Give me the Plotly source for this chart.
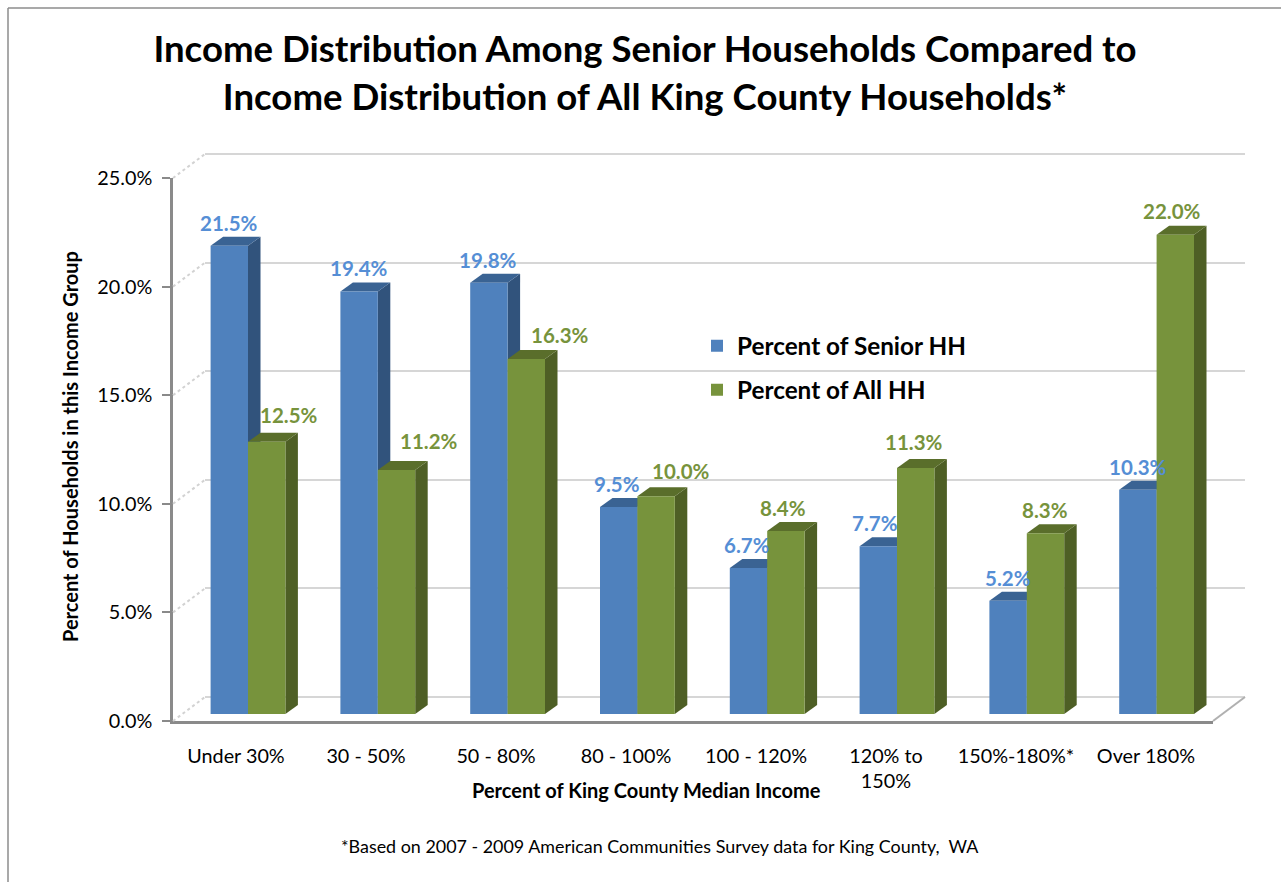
import plotly.graph_objects as go

categories = ["Under 30%", "30 - 50%", "50 - 80%", "80 - 100%", "100 - 120%", "120% to<br>150%", "150%-180%*", "Over 180%"]
senior = [21.5, 19.4, 19.8, 9.5, 6.7, 7.7, 5.2, 10.3]
all_hh = [12.5, 11.2, 16.3, 10.0, 8.4, 11.3, 8.3, 22.0]
y_ticks = [0, 5, 10, 15, 20, 25]
senior_label_dx = [0, 0, -1, -2, -2, -3, 0, 0]
all_label_dx = [22, 32, 34, 25, -3, -2, -1, -3]
all_label_dy = [27, 29, 24, 25, 23, 26, 23, 24]

W, H = 1281, 882
L, R, T, B = 173, 1245, 130, 721
PW, PH = R - L, B - T
FONT = "Lato"
BLUE, BLUE_SIDE, BLUE_TOP = "#4f81bd", "#31537c", "#3a6393"
GREEN, GREEN_SIDE, GREEN_TOP = "#77933c", "#4e5f25", "#5a6e2b"
BLUE_TXT = "#558ed5"
AXIS = "#8a8a8a"

def fx(p): return (p - L) / PW
def fy(p): return (B - p) / PH

BAR_PITCH, BAR_X0 = 129.8, 248
BAR_UNIT, BAR_BASE = 21.78, 714
BAR_W = 37.4 / BAR_PITCH
DX, DY = 12.5 / BAR_PITCH, 9 / BAR_UNIT
idx = list(range(len(categories)))

fig = go.Figure()
for name, vals, col, leg, sign in [("Percent of Senior HH", senior, BLUE, "legend", -1),
                                   ("Percent of All HH", all_hh, GREEN, "legend2", 1)]:
    fig.add_trace(go.Bar(x=idx, y=vals, name=name, xaxis="x2", yaxis="y2", width=BAR_W,
                         offset=(0 if sign > 0 else -BAR_W), marker=dict(color=col, line=dict(width=0)),
                         legend=leg, hoverinfo="skip"))

shapes = []
def poly(pts, col, xr="x2", yr="y2"):
    path = "M" + " L".join(f"{a},{b}" for a, b in pts) + " Z"
    shapes.append(dict(type="path", path=path, xref=xr, yref=yr, fillcolor=col, line=dict(width=0), layer="below"))

for vals, sign, side, top in [(senior, -1, BLUE_SIDE, BLUE_TOP), (all_hh, 1, GREEN_SIDE, GREEN_TOP)]:
    for i, v in zip(idx, vals):
        xl = i if sign > 0 else i - BAR_W
        xr = xl + BAR_W
        poly([(xr, 0), (xr + DX, DY), (xr + DX, v + DY), (xr, v)], side)
        poly([(xl, v), (xl + DX, v + DY), (xr + DX, v + DY), (xr, v)], top)

for t in y_ticks:
    shapes.append(dict(type="line", xref="paper", yref="paper", x0=fx(173), x1=fx(205),
                       y0=fy(721 - t * 21.72), y1=fy(697 - t * 21.72),
                       line=dict(color="#d2d2d2", width=2, dash="dot")))
shapes.append(dict(type="line", xref="paper", yref="paper", x0=fx(1213), x1=fx(1245), y0=fy(721), y1=fy(697),
                   line=dict(color="#b0b0b0", width=2)))
shapes.append(dict(type="line", xref="paper", yref="paper", x0=fx(8), x1=fx(W), y0=fy(8), y1=fy(8), line=dict(color="#8c8c8c", width=1.5)))
shapes.append(dict(type="line", xref="paper", yref="paper", x0=fx(8), x1=fx(8), y0=fy(8), y1=fy(H), line=dict(color="#8c8c8c", width=1.5)))

ann = []
for vals, sign, col, dxs, dys in [(senior, -1, BLUE_TXT, senior_label_dx, [23] * len(senior)),
                                  (all_hh, 1, GREEN, all_label_dx, all_label_dy)]:
    for i, v, d, e in zip(idx, vals, dxs, dys):
        ann.append(dict(x=i + sign * BAR_W / 2, y=v, xref="x2", yref="y2", text=f"{v:.1f}%", showarrow=False,
                        xshift=d, yshift=e, font=dict(family=FONT, size=20.5, color=col, weight="bold")))

def text(x, y, s, size, bold=False, **kw):
    ann.append(dict(x=fx(x), y=fy(y), xref="paper", yref="paper", text=s, showarrow=False,
                    xanchor="center", yanchor="middle",
                    font=dict(family=FONT, size=size, color="#000000", weight="bold" if bold else "normal"), **kw))

text(646, 790, "Percent of King County Median Income", 20, True)
text(70, 447, "Percent of Households in this Income Group", 20, True, textangle=-90)
text(660, 846, "*Based on 2007 - 2009 American Communities Survey data for King County,  WA", 17.9)

GRID_PAD = 0.5
fig.update_layout(
    width=W, height=H, margin=dict(l=L, r=W - R, t=T, b=H - B, pad=0),
    paper_bgcolor="white", plot_bgcolor="rgba(0,0,0,0)",
    title=dict(text="Income Distribution Among Senior Households Compared to<br>Income Distribution of All King County Households*",
               x=645 / W, xanchor="center", y=1 - 62 / H, yanchor="top",
               font=dict(family=FONT, size=36.6, color="#000000", weight="bold")),
    shapes=shapes, annotations=ann,
    showlegend=True,
    legend=dict(x=fx(697), y=fy(346), xanchor="left", yanchor="middle", bgcolor="rgba(0,0,0,0)",
                font=dict(family=FONT, size=24.3, color="#000000", weight="bold"), itemwidth=30),
    legend2=dict(x=fx(697), y=fy(390), xanchor="left", yanchor="middle", bgcolor="rgba(0,0,0,0)",
                 font=dict(family=FONT, size=24.3, color="#000000", weight="bold"), itemwidth=30),
    xaxis=dict(domain=[fx(205), 1], range=[0, 1], visible=False, anchor="y"),
    yaxis=dict(domain=[fy(697 + GRID_PAD * 21.72), fy(154 - GRID_PAD * 21.72)], range=[-GRID_PAD, 25 + GRID_PAD],
               tickvals=y_ticks, showticklabels=False, ticks="",
               showgrid=True, gridcolor="#d6d6d6", gridwidth=2, zeroline=False, showline=False, anchor="x"),
    xaxis2=dict(domain=[0, 1], range=[(L - BAR_X0) / BAR_PITCH, (R - BAR_X0) / BAR_PITCH], visible=False, anchor="y2"),
    yaxis2=dict(domain=[fy(BAR_BASE), 1], range=[0, (BAR_BASE - T) / BAR_UNIT], visible=False, anchor="x2"),
    xaxis3=dict(domain=[0, fx(1213)], range=[(173 - 236) / 130, (1213 - 236) / 130], tickvals=idx, ticktext=categories,
                ticks="", showline=True, linecolor=AXIS, linewidth=2.5, showgrid=False, zeroline=False,
                ticklabelstandoff=15, tickangle=0, tickfont=dict(family=FONT, size=19.8, color="#000000"), anchor="y3"),
    yaxis3=dict(domain=[0, fy(178)], range=[0, 25], tickvals=y_ticks, ticktext=[f"{t:.1f}%" for t in y_ticks],
                ticks="outside", ticklen=8, tickwidth=2, tickcolor=AXIS, showline=True, linecolor=AXIS, linewidth=2.5,
                ticklabelstandoff=6,
                showgrid=False, zeroline=False, tickfont=dict(family=FONT, size=19.8, color="#000000"), anchor="x3"),
)
fig.add_trace(go.Scatter(x=[None], y=[None], xaxis="x3", yaxis="y3", showlegend=False, hoverinfo="skip"))
fig.add_trace(go.Scatter(x=[None], y=[None], xaxis="x", yaxis="y", showlegend=False, hoverinfo="skip"))

fig.write_html("out.html", config=dict(displayModeBar=False),
               post_script="document.body.style.margin='0';document.body.style.overflow='hidden';")
